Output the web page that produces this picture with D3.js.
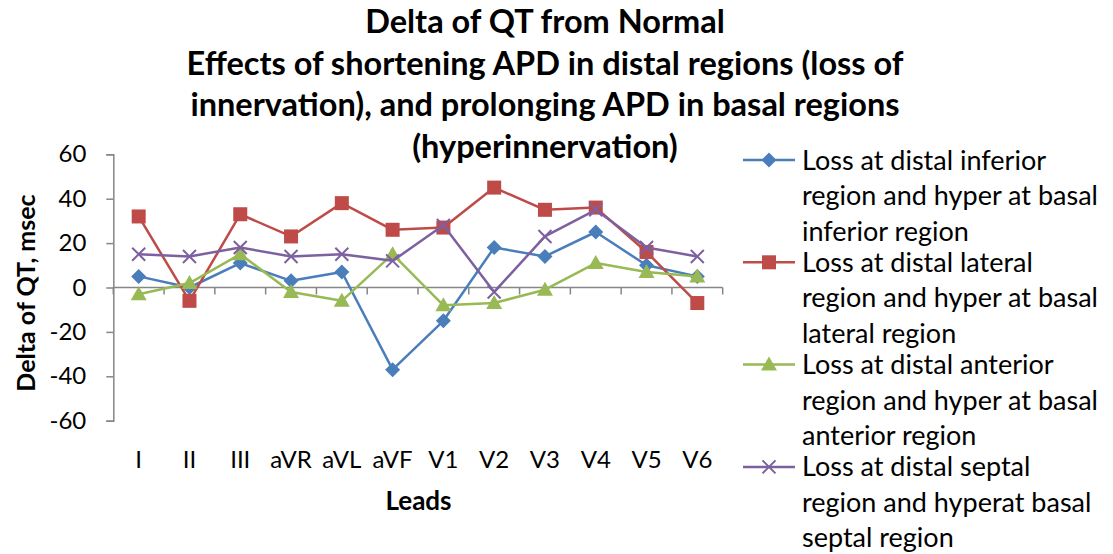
<!DOCTYPE html>
<html>
<head>
<meta charset="utf-8">
<script src="https://cdn.jsdelivr.net/npm/d3@7"></script>
<style>
  html, body { margin: 0; padding: 0; background: #fff; }
  svg { display: block; font-family: Lato, "Open Sans", sans-serif; }
</style>
</head>
<body>
<svg id="chart" width="1113" height="554"></svg>
<script>
// Leads on the x axis
const leads = ["I", "II", "III", "aVR", "aVL", "aVF", "V1", "V2", "V3", "V4", "V5", "V6"];

// Delta of QT (msec) for each simulated case
const inferior = [5, 0, 11, 3, 7, -37, -15, 18, 14, 25, 10, 5];
const lateral  = [32, -6, 33, 23, 38, 26, 27, 45, 35, 36, 16, -7];
const anterior = [-3, 2, 15, -2, -6, 15, -8, -7, -1, 11, 7, 5];
const septal   = [15, 14, 18, 14, 15, 12, 28, -2, 23, 35, 18, 14];

const yTicks = [-60, -40, -20, 0, 20, 40, 60];

const seriesNames = [
  ["Loss at distal inferior", "region and hyper at basal", "inferior region"],
  ["Loss at distal lateral", "region and hyper at basal", "lateral region"],
  ["Loss at distal anterior", "region and hyper at basal", "anterior region"],
  ["Loss at distal septal", "region and hyperat basal", "septal region"]
];

const titleLines = [
  "Delta of QT from Normal",
  "Effects of shortening APD in distal regions (loss of",
  "innervation), and prolonging APD in basal regions",
  "(hyperinnervation)"
];

const series = [
  { name: seriesNames[0], values: inferior, color: "#4A7EBB", marker: "diamond" },
  { name: seriesNames[1], values: lateral,  color: "#BE4B48", marker: "square" },
  { name: seriesNames[2], values: anterior, color: "#98B954", marker: "triangle" },
  { name: seriesNames[3], values: septal,   color: "#7D60A0", marker: "x" }
];

const svg = d3.select("#chart");
const plot = { left: 113.3, right: 722.7, top: 154.3, bottom: 420.7 };

const x = d3.scaleBand().domain(leads).range([plot.left, plot.right]).paddingInner(0).paddingOuter(0);
const y = d3.scaleLinear().domain([-60, 60]).range([plot.bottom, plot.top]);
const cx = d => x(d) + x.bandwidth() / 2;

const axisColor = "#868686";

// Title
const title = svg.append("text")
  .attr("text-anchor", "middle")
  .attr("font-weight", "bold")
  .attr("font-size", 32.5)
  .attr("fill", "#000");
titleLines.forEach((t, i) => {
  title.append("tspan").attr("x", 545).attr("y", 33 + i * 41.7).text(t);
});

// Y axis
const yAxis = svg.append("g")
  .attr("transform", `translate(${plot.left},0)`)
  .call(d3.axisLeft(y).tickValues(yTicks).tickSize(7).tickPadding(20).tickFormat(d3.format("d")));
yAxis.select(".domain").attr("stroke", axisColor).attr("stroke-width", 1.5);
yAxis.selectAll(".tick line").attr("stroke", axisColor).attr("stroke-width", 1.5);
yAxis.selectAll(".tick text")
  .attr("font-family", "Lato, sans-serif")
  .attr("font-size", 24)
  .attr("fill", "#000")
  .text(d => d < 0 ? "-" + Math.abs(d) : d);

// X axis line at zero with ticks on category boundaries
const xAxis = svg.append("g").attr("transform", `translate(0,${y(0)})`);
xAxis.append("line")
  .attr("x1", plot.left).attr("x2", plot.right)
  .attr("stroke", axisColor).attr("stroke-width", 1.5);
const edges = leads.map(d => x(d)).concat([plot.right]);
xAxis.selectAll("line.tk").data(edges).join("line")
  .attr("class", "tk")
  .attr("x1", d => d).attr("x2", d => d)
  .attr("y1", 0).attr("y2", 7)
  .attr("stroke", axisColor).attr("stroke-width", 1.5);

// Category labels below the plot
svg.append("g").selectAll("text").data(leads).join("text")
  .attr("x", d => cx(d))
  .attr("y", 468)
  .attr("text-anchor", "middle")
  .attr("font-size", 24)
  .attr("fill", "#000")
  .text(d => d);

// Axis titles
svg.append("text")
  .attr("x", 418.5)
  .attr("y", 510)
  .attr("text-anchor", "middle")
  .attr("font-weight", "bold")
  .attr("font-size", 26)
  .text("Leads");

svg.append("text")
  .attr("transform", `translate(35,293) rotate(-90)`)
  .attr("text-anchor", "middle")
  .attr("font-weight", "bold")
  .attr("font-size", 25)
  .text("Delta of QT, msec");

// Marker drawing
function drawMarker(g, type, color) {
  if (type === "diamond") {
    g.append("path").attr("d", "M0,-7.5L7.5,0L0,7.5L-7.5,0Z").attr("fill", color);
  } else if (type === "square") {
    g.append("rect").attr("x", -7).attr("y", -7).attr("width", 14).attr("height", 14).attr("fill", color);
  } else if (type === "triangle") {
    g.append("path").attr("d", "M0,-8L8,6L-8,6Z").attr("fill", color);
  } else {
    g.append("path").attr("d", "M-6.5,-6.5L6.5,6.5M-6.5,6.5L6.5,-6.5")
      .attr("stroke", color).attr("stroke-width", 2).attr("fill", "none");
  }
}

const line = d3.line().x(d => cx(d.lead)).y(d => y(d.v));

series.forEach(s => {
  const pts = leads.map((l, i) => ({ lead: l, v: s.values[i] }));
  const g = svg.append("g");
  g.append("path")
    .datum(pts)
    .attr("d", line)
    .attr("fill", "none")
    .attr("stroke", s.color)
    .attr("stroke-width", 2.5)
    .attr("stroke-linejoin", "round");
  g.selectAll("g.m").data(pts).join("g")
    .attr("class", "m")
    .attr("transform", d => `translate(${cx(d.lead)},${y(d.v)})`)
    .each(function () { drawMarker(d3.select(this), s.marker, s.color); });
});

// Legend
const legend = svg.append("g");
series.forEach((s, i) => {
  const top = 160 + i * 102.3;
  const g = legend.append("g");
  g.append("line")
    .attr("x1", 743).attr("x2", 795)
    .attr("y1", top).attr("y2", top)
    .attr("stroke", s.color).attr("stroke-width", 2.5);
  const m = g.append("g").attr("transform", `translate(769,${top})`);
  drawMarker(m, s.marker, s.color);
  s.name.forEach((t, j) => {
    g.append("text")
      .attr("x", 802)
      .attr("y", top + 9.5 + j * 35.5)
      .attr("font-size", 27)
      .attr("fill", "#000")
      .text(t);
  });
});
</script>
</body>
</html>
